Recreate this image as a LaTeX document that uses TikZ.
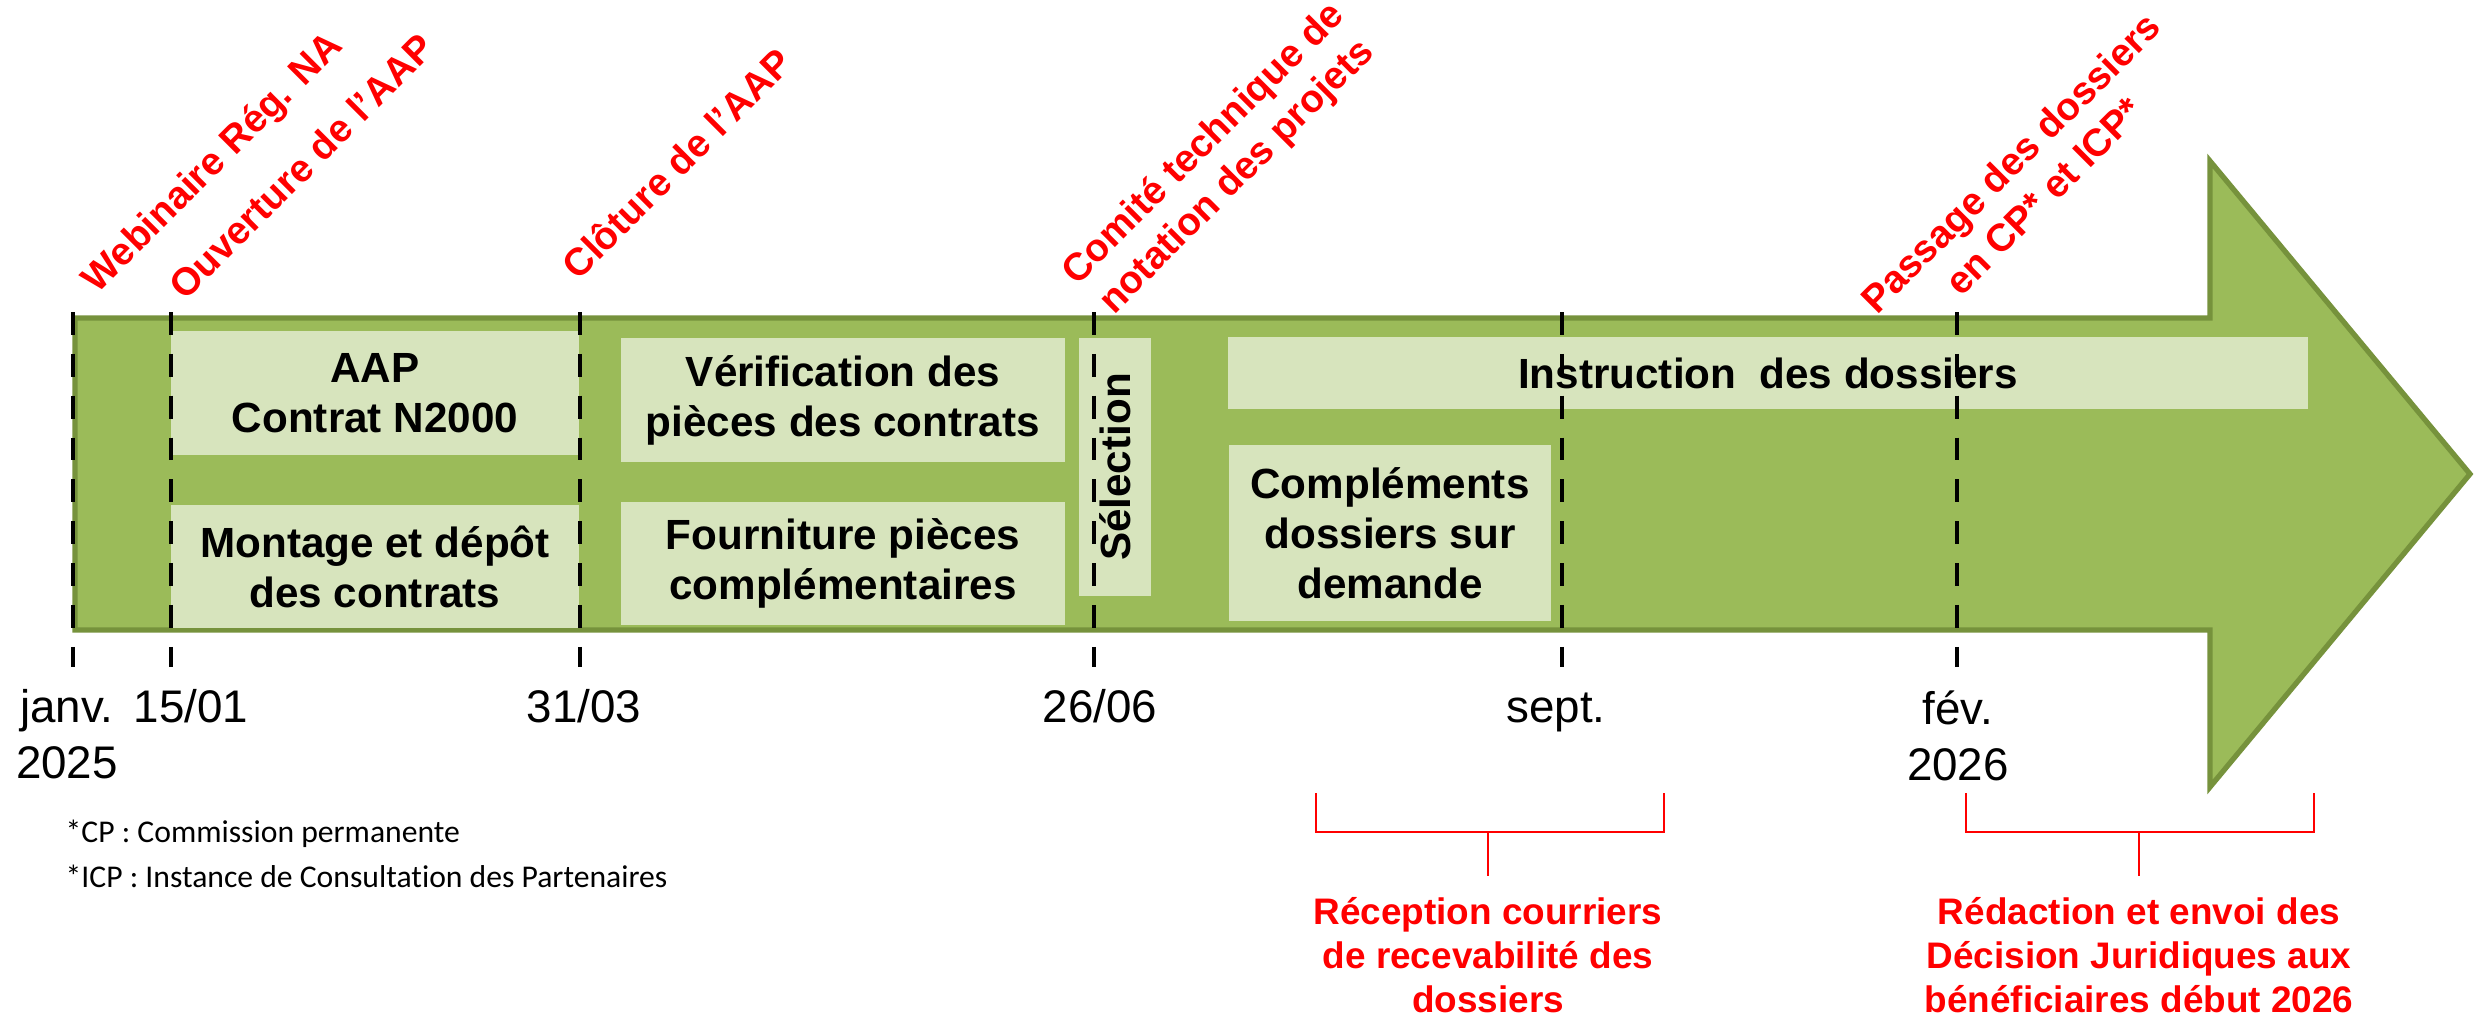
\documentclass[tikz,border=0pt]{standalone}
\usepackage{fontspec}
\setmainfont{Liberation Sans}
\newfontfamily\notefont[Ligatures=NoCommon]{Carlito}
\usepackage{tikz}
\usetikzlibrary{positioning}
\definecolor{shaftgreen}{HTML}{9BBB59}
\definecolor{shaftedge}{HTML}{76923C}
\definecolor{phasegreen}{HTML}{D7E4BD}
\definecolor{alertred}{HTML}{FF0000}
\tikzstyle{phasebox} = [rectangle, fill=phasegreen, inner sep=0pt, align=center, font=\fontsize{12}{14.2}\selectfont\bfseries]
\tikzstyle{eventlabel} = [rotate=45, text=alertred, inner sep=0pt, align=center, font=\fontsize{11}{13.3}\selectfont\bfseries]
\tikzstyle{datelabel} = [inner sep=0pt, align=center, anchor=base, font=\fontsize{13}{15.9}\selectfont]
\tikzstyle{tickline} = [line width=1.3pt, dash pattern=on 6.5pt off 5.4pt]
\tikzstyle{bracket} = [draw=alertred, line width=0.8pt]
\tikzstyle{outcomelabel} = [text=alertred, inner sep=0pt, align=center, anchor=base, font=\fontsize{10.5}{12.5}\selectfont\bfseries]
\tikzstyle{notelabel} = [inner sep=0pt, anchor=base west, font=\notefont\fontsize{9}{11}\selectfont]

\begin{document}
\begin{tikzpicture}[x=0.01cm, y=-0.01cm]
\useasboundingbox (0,0) rectangle (2477,1020);
% big arrow
\draw[fill=shaftgreen, draw=shaftedge, line width=1.5pt] (75,318) -- (2210,318) -- (2210,161) -- (2470,474) -- (2210,787) -- (2210,630) -- (75,630) -- cycle;

% phases
\node (aap) [phasebox, minimum width=4.07cm, minimum height=1.23cm] at (375,393) {AAP\\Contrat N2000};
\node (montage) [phasebox, minimum width=4.07cm, minimum height=1.23cm, below=0.49cm of aap] {Montage et dépôt\\des contrats};
\node (verif) [phasebox, minimum width=4.43cm, minimum height=1.23cm] at (843,400) {Vérification des\\pièces des contrats};
\node (fourn) [phasebox, minimum width=4.43cm, minimum height=1.23cm, below=0.39cm of verif] {Fourniture pièces\\complémentaires};
\node (select) [phasebox, rotate=90, minimum width=2.58cm, minimum height=0.71cm] at (1115,467) {Sélection};
\node (instr) [phasebox, minimum width=10.79cm, minimum height=0.72cm] at (1768,373) {Instruction\ \ des dossiers};
\node (compl) [phasebox, minimum width=3.22cm, minimum height=1.76cm] at (1390,533) {Compléments\\dossiers sur\\demande};

% milestones
\foreach \x in {73,171,580,1094,1562,1957}
  \draw[tickline] (\x,312) -- (\x,667);

% dates
\node (djanv) [datelabel] at (67,778) {janv.\\2025};
\node (d1501) [datelabel] at (191,722) {15/01};
\node (d3103) [datelabel] at (584,722) {31/03};
\node (d2606) [datelabel] at (1100,722) {26/06};
\node (dsept) [datelabel] at (1556,722) {sept.};
\node (dfev) [datelabel] at (1958,780) {fév.\\2026};

% events
\node (webi) [eventlabel, anchor=base west] at (97,295) {Webinaire Rég. NA};
\node (ouv) [eventlabel, anchor=base west] at (185,302) {Ouverture de l’AAP};
\node (clot) [eventlabel, anchor=base west] at (578,282) {Clôture de l’AAP};
\node (comite) [eventlabel] at (1221,161) {Comité technique de\\notation des projets};
\node (passage) [eventlabel] at (2027,179) {Passage des dossiers\\en CP* et ICP*};

% outcomes
\node (recep) [outcomelabel] at (1488,1012) {Réception courriers\\de recevabilité des\\dossiers};
\node (redac) [outcomelabel] at (2139,1012) {Rédaction et envoi des\\Décision Juridiques aux\\bénéficiaires début 2026};
\coordinate (recepbr) at (1488,832);
\coordinate (redacbr) at (2139,832);
\draw[bracket] (1316,793) -- (1316,832) -- (1664,832) -- (1664,793);
\draw[bracket] (1966,793) -- (1966,832) -- (2314,832) -- (2314,793);
\draw[bracket, shorten >=0.2cm] (recepbr) -- (recepbr |- recep.north);
\draw[bracket, shorten >=0.2cm] (redacbr) -- (redacbr |- redac.north);

% notes
\node (notecp) [notelabel] at (65,842) {*CP : Commission permanente};
\node (noteicp) [notelabel] at (65,887) {*ICP : Instance de Consultation des Partenaires};
\end{tikzpicture}
\end{document}
